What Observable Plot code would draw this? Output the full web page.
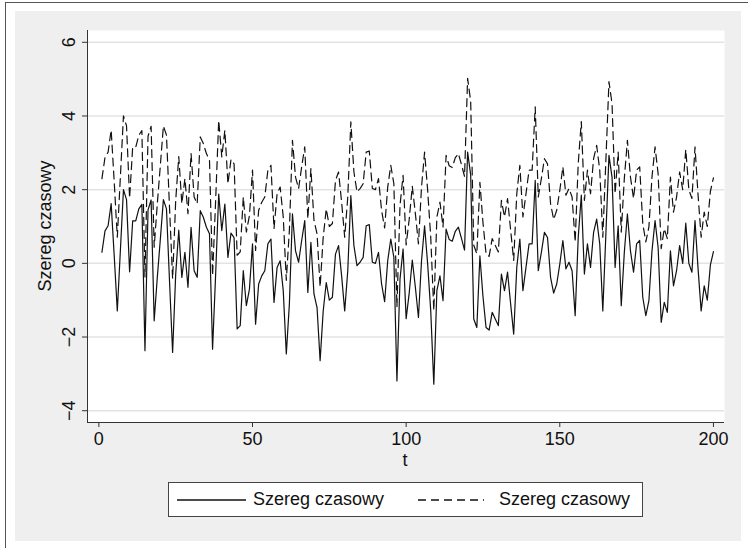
<!DOCTYPE html>
<html>
<head>
<meta charset="utf-8">
<script src="https://cdn.jsdelivr.net/npm/d3@7"></script>
<script src="https://cdn.jsdelivr.net/npm/@observablehq/plot@0.6"></script>
<style>
  body { margin: 0; background: #fff; font-family: "Liberation Sans", Arial, sans-serif; }
  #wrap { position: relative; width: 748px; height: 548px; overflow: hidden; background: #fff; }
  #frame { position: absolute; left: 5px; top: 2px; width: 760px; height: 560px; border-left: 1px solid #555; border-top: 1px solid #555; }
  #bg { position: absolute; left: 15px; top: 11px; width: 726px; height: 530px; background: #efefef; }
  #chart { position: absolute; left: 0; top: 0; }
  .ttl { position: absolute; font-size: 18px; line-height: 18px; color: #111; white-space: nowrap; }
  #legend { position: absolute; left: 168px; top: 482px; width: 473px; height: 33px; background: #fff; border: 1px solid #444; }
  #legend .lt { position: absolute; top: 7px; font-size: 18px; line-height: 18px; color: #111; white-space: nowrap; }
  #legend svg { position: absolute; left: 0; top: 0; }
</style>
</head>
<body>
<div id="wrap">
  <div id="frame"></div>
  <div id="bg"></div>
  <div id="chart"></div>
  <div class="ttl" id="ytitle" style="left:45px; top:226px; transform: translate(-50%,-50%) rotate(-90deg);">Szereg czasowy</div>
  <div class="ttl" id="xtitle" style="left:405px; top:451px; transform: translateX(-50%);">t</div>
  <div id="legend"></div>
</div>
<script>
// time index
const tIndex = d3.range(1, 201);

// Solid series ("Szereg czasowy")
const solid = [
  0.30, 0.88, 1.02, 1.62, 0.20, -1.29, 0.35, 2.00, 1.73, -0.23,
  1.15, 1.15, 1.48, 1.60, -2.37, 1.45, 1.72, -1.56, -0.40, 0.65,
  1.73, 1.48, -0.50, -2.42, -0.30, 0.90, -0.38, 0.30, -0.65, 0.98,
  -0.20, -0.38, 1.43, 1.25, 0.98, 0.80, -2.33, -0.30, 1.88, 0.89,
  1.61, 0.16, 0.82, 0.70, -1.78, -1.69, -0.20, -1.15, -0.70, 0.53,
  -1.65, -0.56, -0.34, -0.20, 0.53, 0.66, -1.06, -0.11, 0.07, -0.74,
  -2.46, -1.10, 1.34, 0.34, 0.03, 0.62, 1.16, -0.79, 0.57, -0.83,
  -1.20, -2.64, -1.30, -0.52, -1.00, -0.92, 0.25, 0.48, -0.34, -1.29,
  -0.20, 1.84, 0.48, -0.06, 0.03, 0.16, 1.02, 1.05, 0.03, 0.00,
  0.30, -0.56, -1.04, 0.07, 0.66, 0.16, -3.19, -0.43, 0.39, -1.50,
  -0.80, 0.09, -0.65, -1.47, 0.07, 1.02, -0.02, -1.29, -3.28, -0.74,
  -0.34, -1.01, 0.93, 0.65, 0.60, 0.87, 0.98, 0.68, 0.36, 3.02,
  2.40, -1.51, -1.74, 0.20, -0.90, -1.74, -1.81, -1.33, -1.51, -1.69,
  -0.29, -0.74, -0.24, -1.10, -1.92, -0.11, 0.66, -0.74, -0.11, 0.53,
  0.53, 2.25, -0.20, 0.30, 0.84, 0.70, -0.38, -0.81, -0.56, -0.02,
  0.62, -0.15, 0.03, -0.20, -1.42, 0.71, 1.85, -0.29, 0.53, -0.11,
  0.84, 1.20, 0.53, -1.29, 0.80, 2.93, 2.34, -0.11, 1.02, -1.15,
  0.30, 1.34, 0.34, -0.24, 0.53, 0.62, -0.92, -1.42, -1.01, 0.34,
  1.16, 0.43, -1.60, -1.06, -1.33, 0.34, -0.61, -0.20, 0.48, 0.00,
  1.09, 0.00, -0.24, 1.16, -0.15, -1.29, -0.61, -1.00, -0.05, 0.32
];

// Dashed series ("Szereg czasowy")
const dashed = [
  2.30, 2.88, 3.02, 3.62, 2.20, 0.71, 2.35, 4.00, 3.73, 1.77,
  3.15, 3.15, 3.48, 3.60, -0.37, 3.45, 3.72, 0.44, 1.60, 2.65,
  3.73, 3.48, 1.50, -0.42, 1.70, 2.90, 1.62, 2.30, 1.35, 2.98,
  1.80, 1.62, 3.43, 3.25, 2.98, 2.80, -0.33, 1.70, 3.88, 2.89,
  3.61, 2.16, 2.82, 2.70, 0.22, 0.31, 1.80, 0.85, 1.30, 2.53,
  0.35, 1.44, 1.66, 1.80, 2.53, 2.66, 0.94, 1.89, 2.07, 1.26,
  -0.46, 0.90, 3.34, 2.34, 2.03, 2.62, 3.16, 1.21, 2.57, 1.17,
  0.80, -0.64, 0.70, 1.48, 1.00, 1.08, 2.25, 2.48, 1.66, 0.71,
  1.80, 3.84, 2.48, 1.94, 2.03, 2.16, 3.02, 3.05, 2.03, 2.00,
  2.30, 1.44, 0.96, 2.07, 2.66, 2.16, -1.19, 1.57, 2.39, 0.50,
  1.20, 2.09, 1.35, 0.53, 2.07, 3.02, 1.98, 0.71, -1.28, 1.26,
  1.66, 0.99, 2.93, 2.65, 2.60, 2.87, 2.98, 2.68, 2.36, 5.02,
  4.40, 0.49, 0.26, 2.20, 1.10, 0.26, 0.19, 0.67, 0.49, 0.31,
  1.71, 1.26, 1.76, 0.90, 0.08, 1.89, 2.66, 1.26, 1.89, 2.53,
  2.53, 4.25, 1.80, 2.30, 2.84, 2.70, 1.62, 1.19, 1.44, 1.98,
  2.62, 1.85, 2.03, 1.80, 0.58, 2.71, 3.85, 1.71, 2.53, 1.89,
  2.84, 3.20, 2.53, 0.71, 2.80, 4.93, 4.34, 1.89, 3.02, 0.85,
  2.30, 3.34, 2.34, 1.76, 2.53, 2.62, 1.08, 0.58, 0.99, 2.34,
  3.16, 2.43, 0.40, 0.94, 0.67, 2.34, 1.39, 1.80, 2.48, 2.00,
  3.09, 2.00, 1.76, 3.16, 1.85, 0.71, 1.39, 1.00, 1.95, 2.32
];

const xTicks = [0, 50, 100, 150, 200];
const yTicks = [-4, -2, 0, 2, 4, 6];
const yTickLabels = ["\u22124", "\u22122", "0", "2", "4", "6"];
const seriesNames = ["Szereg czasowy", "Szereg czasowy"];

const rows = tIndex.map((t, i) => ({t, a: solid[i], b: dashed[i]}));
const xDomain = [-3.7, 203.6];
const yDomain = [-4.32, 6.32];

const chart = Plot.plot({
  width: 748,
  height: 470,
  marginLeft: 87,
  marginRight: 24,
  marginTop: 30,
  marginBottom: 48,
  style: {background: "transparent", fontFamily: "'Liberation Sans', Arial, sans-serif", fontSize: "18px", color: "#111"},
  x: {domain: xDomain},
  y: {domain: yDomain},
  marks: [
    Plot.frame({fill: "white", stroke: null}),
    Plot.gridY(yTicks, {stroke: "#e3e3e3", strokeOpacity: 1, strokeWidth: 1.5}),
    Plot.axisX(xTicks, {tickSize: 5, tickPadding: 5, label: null, stroke: "#333"}),
    Plot.axisY(yTicks, {tickSize: 5, tickPadding: 8, tickRotate: -90, label: null, stroke: "#333",
      tickFormat: d => yTickLabels[yTicks.indexOf(d)]}),
    Plot.ruleX([xDomain[0]], {stroke: "#333", strokeWidth: 1}),
    Plot.ruleY([yDomain[0]], {stroke: "#333", strokeWidth: 1}),
    Plot.lineY(rows, {x: "t", y: "a", stroke: "#111", strokeWidth: 1.2}),
    Plot.lineY(rows, {x: "t", y: "b", stroke: "#111", strokeWidth: 1.2, strokeDasharray: "8,5"})
  ]
});
document.getElementById("chart").appendChild(chart);

// legend
const lg = document.getElementById("legend");
lg.innerHTML = `
<svg width="473" height="33">
  <line x1="8" x2="77" y1="17" y2="17" stroke="#111" stroke-width="1.3"></line>
  <line x1="249" x2="315" y1="17" y2="17" stroke="#111" stroke-width="1.3" stroke-dasharray="8,5"></line>
</svg>
<div class="lt" style="left:84px;">${seriesNames[0]}</div>
<div class="lt" style="left:330px;">${seriesNames[1]}</div>`;
</script>
</body>
</html>
